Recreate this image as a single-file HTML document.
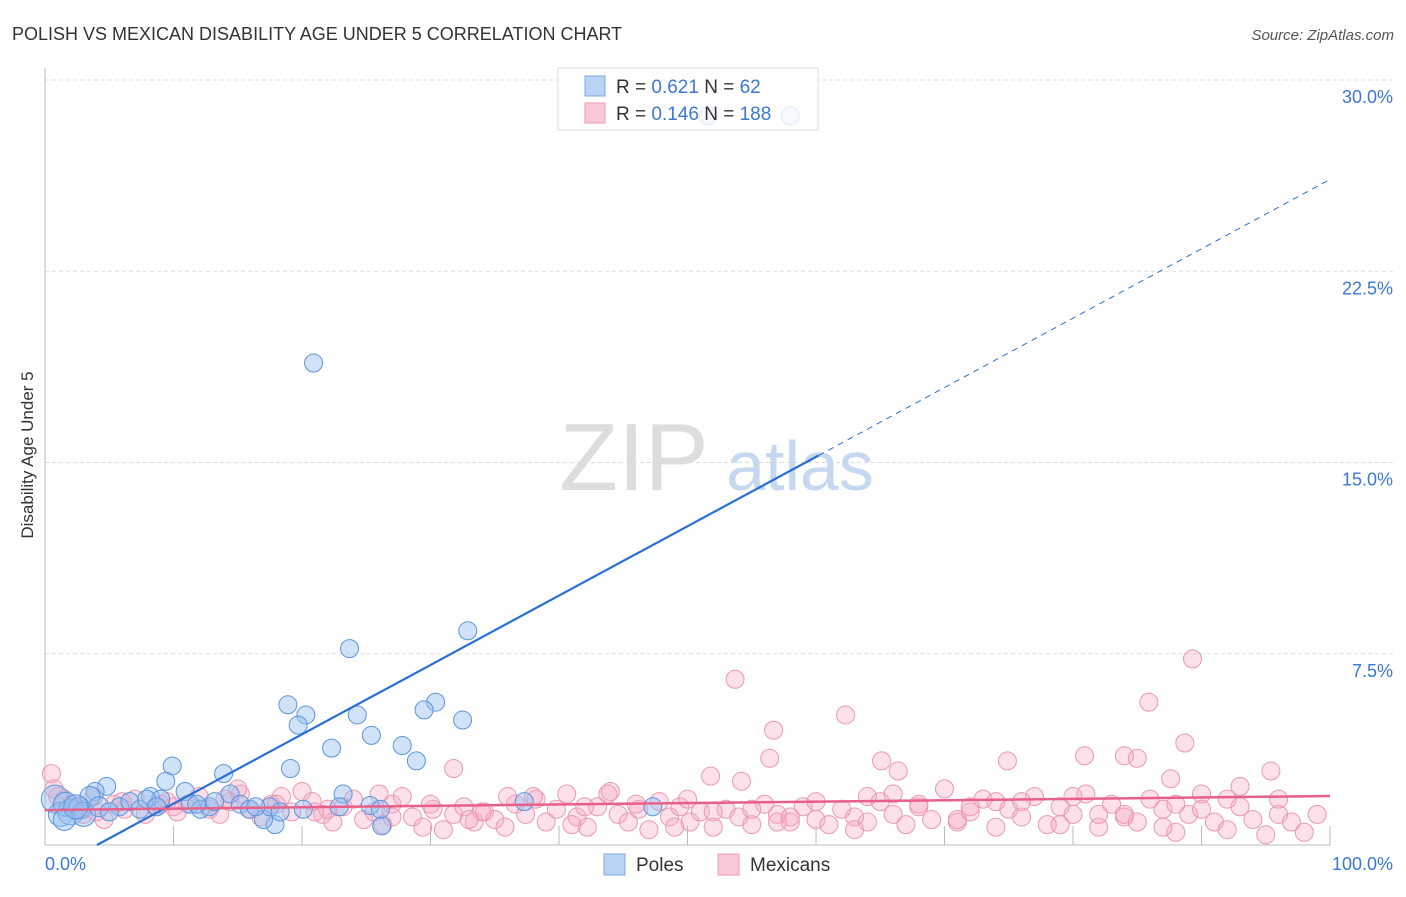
<!DOCTYPE html>
<html><head><meta charset="utf-8"><style>
body{margin:0;background:#fff;font-family:"Liberation Sans",sans-serif}
svg text{font-family:"Liberation Sans",sans-serif}
</style></head><body>
<svg id="chart" width="1406" height="892" xmlns="http://www.w3.org/2000/svg">
<text x="12" y="40" font-size="18" fill="#333">POLISH VS MEXICAN DISABILITY AGE UNDER 5 CORRELATION CHART</text>
<text x="1394" y="40" font-size="15" fill="#555" text-anchor="end" font-style="italic">Source: ZipAtlas.com</text>
<text transform="translate(33,455) rotate(-90)" font-size="17" fill="#333" text-anchor="middle">Disability Age Under 5</text>
<g id="grid"></g>
<g>
<text x="634" y="490" font-size="96" fill="#ddd" font-family="Liberation Serif" text-anchor="middle">ZIP</text>
<text x="800" y="490" font-size="70" fill="#c5d8f0" text-anchor="middle">atlas</text>
</g>
<g id="axes"></g>
<g id="pink"></g>
<g id="blue"></g>
<g id="lines"></g>
<g>
<rect x="558" y="68" width="260" height="62" fill="#fff" fill-opacity="0.8" stroke="#ddd"/>
<rect x="585" y="76" width="20" height="20" fill="#b8d3f5" stroke="#7aa8e0"/>
<rect x="585" y="103" width="20" height="20" fill="#fac8d6" stroke="#ec9ab2"/>
<text x="616" y="93" font-size="19" fill="#333">R = <tspan fill="#3b78d8">0.621</tspan>   N =  <tspan fill="#3b78d8"> 62</tspan></text>
<text x="616" y="120" font-size="19" fill="#333">R = <tspan fill="#3b78d8">0.146</tspan>   N = <tspan fill="#3b78d8">188</tspan></text>
</g>
<g>
<rect x="604" y="854" width="21" height="21" fill="#b8d3f5" stroke="#7aa8e0"/>
<text x="636" y="871" font-size="19" fill="#333">Poles</text>
<rect x="718" y="854" width="21" height="21" fill="#fac8d6" stroke="#ec9ab2"/>
<text x="750" y="871" font-size="19" fill="#333">Mexicans</text>
</g>
</svg>
<script>
const yTicks=[7.5,15,22.5,30];
const yTickLabels=["7.5%","15.0%","22.5%","30.0%"];
const xTickLabels=["0.0%","100.0%"];
const polesX=[20.9,23.7,32.9,30.4,29.5,32.5,18.9,20.3,19.7,24.3,22.3,25.4,27.8,28.9,19.1,9.9,13.9,9.4,4.8,3.9,51.6,58,37.3,47.3,23.2,26.2,17.9,17,0.8,1.2,2,1.6,2.7,3.5,5.8,6.6,7.4,8.2,9,10.9,11.3,12.1,12.8,14.4,15.2,15.9,17.5,18.3,22.9,25.3,26.1,3,1.5,4.2,5,13.2,16.4,20.1,11.8,7.9,8.7,2.4];
const polesV=[18.9,7.7,8.4,5.6,5.3,4.9,5.5,5.1,4.7,5.1,3.8,4.3,3.9,3.3,3,3.1,2.8,2.5,2.3,2.1,28.6,28.6,1.7,1.5,2,0.75,0.8,1,1.8,1.2,1.3,1.6,1.45,1.9,1.5,1.7,1.4,1.9,1.8,2.1,1.6,1.4,1.5,2,1.6,1.4,1.5,1.3,1.5,1.55,1.4,1.2,1.0,1.5,1.3,1.7,1.5,1.4,1.6,1.8,1.5,1.5];
const polesR=[9,9,9,9,9,9,9,9,9,9,9,9,9,9,9,9,9,9,9,9,9,9,9,9,9,9,9,9,14,12,13,12,11,10,9,9,9,9,9,9,9,9,9,9,9,9,9,9,9,9,9,12,11,10,9,9,9,9,9,9,9,12];
const mexX=[53.7,89.3,85.9,62.3,56.7,88.7,56.4,80.9,84,85,31.8,95.4,65.1,66.4,74.9,51.8,54.2,87.6,0.5,0.7,1.5,2.3,3,3.8,4.6,5.4,6.2,7,7.8,8.6,9.5,10.3,11.1,12,12.8,13.6,14.4,15.2,16,16.8,17.6,18.4,19.2,20,20.8,21.6,22.4,23.2,24,24.8,25.6,26.3,27,27.8,28.6,29.4,30.2,31,31.8,32.6,33.4,34.2,35,35.8,36.6,37.4,38.2,39,39.8,40.6,41.4,42.2,43,43.8,44.6,45.4,46.2,47,47.8,48.6,49.4,50.2,51,52,53,54,55,56,57,58,59,60,61,62,63,64,65,66,67,68,69,70,71,72,73,74,75,76,77,78,79,80,81,82,83,84,85,86,87,88,89,90,91,92,93,94,95,96,98,99,2,4,6,10,14,18,22,26,30,34,38,42,46,50,55,60,64,68,72,76,80,84,88,92,96,27,33,41,49,57,63,71,79,87,93,1,3,9,15,21,36,44,52,58,66,74,82,90,97];
const mexV=[6.5,7.3,5.6,5.1,4.5,4,3.4,3.5,3.5,3.4,3,2.9,3.3,2.9,3.3,2.7,2.5,2.6,2.8,2.2,1.8,1.5,1.2,1.9,1,1.6,1.4,1.8,1.2,1.5,1.7,1.3,1.6,1.9,1.4,1.2,1.7,2,1.4,1.1,1.6,1.9,1.3,2.1,1.7,1.2,0.9,1.5,1.8,1,1.3,0.8,1.6,1.9,1.1,0.7,1.4,0.6,1.2,1.5,0.9,1.3,1,0.7,1.6,1.2,1.8,0.9,1.4,2,1.1,0.7,1.5,2,1.2,0.9,1.4,0.6,1.7,1.1,1.5,0.9,1.3,0.7,1.4,1.1,0.8,1.6,1.2,0.9,1.5,1,0.8,1.4,1.1,0.9,1.7,1.2,0.8,1.5,1,2.2,0.9,1.3,1.8,0.7,1.4,1.1,1.9,0.8,1.5,1.2,2,0.7,1.6,1.1,0.9,1.8,1.4,0.5,1.2,2,0.9,0.6,1.5,1,0.4,1.8,0.5,1.2,1.6,1.3,1.7,1.5,1.8,1.6,1.4,2,1.6,1.3,1.9,1.5,1.6,1.8,1.4,1.7,1.9,1.6,1.5,1.7,1.9,1.2,1.6,1.8,1.2,1.1,1,0.8,0.7,0.9,0.6,1,0.8,0.7,2.3,1.9,1.4,1.6,2.2,1.3,1.9,2.1,1.3,1.1,2,1.7,1.2,1.4,0.9];
const polesTrend=[-1.1,0.272];
const mexTrend=[1.37,0.0055];
const X=p=>45+p*12.85, Y=v=>845-v*25.5;
const ns="http://www.w3.org/2000/svg";
function mk(tag,attrs,parent){const e=document.createElementNS(ns,tag);for(const k in attrs)e.setAttribute(k,attrs[k]);parent.appendChild(e);return e;}
const grid=document.getElementById('grid'),axes=document.getElementById('axes');
yTicks.forEach((t,i)=>{
 const l=mk('line',{x1:45,x2:1393,y1:Y(t),y2:Y(t),stroke:'#ddd','stroke-dasharray':'4,3'},grid);
 
 
 const tx=mk('text',{x:1393,y:Y(t)+23,'font-size':18,fill:'#3b78d8','text-anchor':'end'},axes);
 tx.textContent=yTickLabels[i];
 
 
});
mk('line',{x1:45,x2:45,y1:68,y2:845,stroke:'#bbb'},axes);
mk('line',{x1:45,x2:1330,y1:845,y2:845,stroke:'#bbb'},axes);
for(let i=1;i<=10;i++){mk('line',{x1:X(i*10),x2:X(i*10),y1:826,y2:845,stroke:'#bbb'},axes);}
let t0=mk('text',{x:45,y:870,'font-size':18,fill:'#3b78d8'},axes);t0.textContent=xTickLabels[0];


let t1=mk('text',{x:1393,y:870,'font-size':18,fill:'#3b78d8','text-anchor':'end'},axes);t1.textContent=xTickLabels[1];


const pink=document.getElementById('pink');
mexX.forEach((x,i)=>{if(mexV[i]===undefined)return;const c=mk('circle',{cx:X(x),cy:Y(mexV[i]),r:9,fill:'rgba(245,170,195,0.35)',stroke:'#ec98b2','stroke-width':1},pink);
 
 });
const blue=document.getElementById('blue');
polesX.forEach((x,i)=>{const c=mk('circle',{cx:X(x),cy:Y(polesV[i]),r:polesR[i],fill:'rgba(150,190,240,0.45)',stroke:'#5b95dd','stroke-width':1},blue);
 
 });
const lines=document.getElementById('lines');
const bx0=-polesTrend[0]/polesTrend[1];
mk('line',{x1:X(bx0),y1:Y(0),x2:X(60.2),y2:Y(polesTrend[0]+polesTrend[1]*60.2),stroke:'#2a6fd6','stroke-width':2.2},lines);
mk('line',{x1:X(60.2),y1:Y(polesTrend[0]+polesTrend[1]*60.2),x2:X(100),y2:Y(polesTrend[0]+polesTrend[1]*100),stroke:'#2a6fd6','stroke-width':1,'stroke-dasharray':'6,5'},lines);
mk('line',{x1:X(0),y1:Y(mexTrend[0]),x2:X(100),y2:Y(mexTrend[0]+mexTrend[1]*100),stroke:'#e8608a','stroke-width':2.5},lines);
</script>
</body></html>
